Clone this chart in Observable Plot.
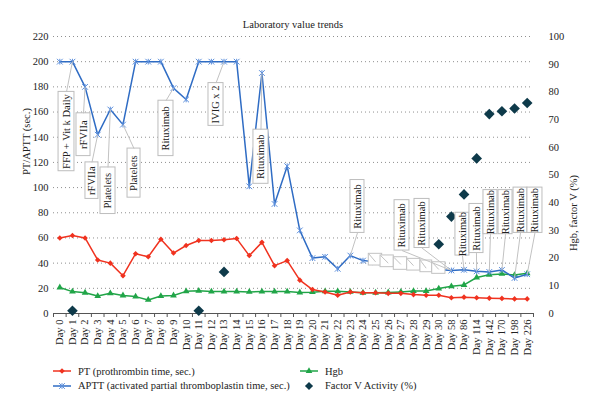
<!DOCTYPE html>
<html>
<head>
<meta charset="utf-8">
<script src="https://cdn.jsdelivr.net/npm/d3@7"></script>
<script src="https://cdn.jsdelivr.net/npm/@observablehq/plot@0.6"></script>
<style>
  body { margin: 0; background: #fff; font-family: "Liberation Serif", Tinos, "Times New Roman", Times, "Noto Serif", "DejaVu Serif", serif; color: #222; }
  #chart { width: 600px; height: 412px; position: relative; overflow: hidden; }
  .title { height: 30px; box-sizing: border-box; padding: 18px 0 0 53px; width: 533px; text-align: center; font-size: 10.5px; line-height: 13px; }
  .legend { position: relative; height: 52px; font-size: 10.5px; }
  .item { position: absolute; display: flex; align-items: center; height: 14px; white-space: nowrap; }
  .item svg { margin-right: 7px; }
  svg.plot { display: block; }
</style>
</head>
<body>
<div id="chart">
  <div class="title">Laboratory value trends</div>
</div>
<script>
// Sampling days (categorical x axis)
const dayLabels = [
  "Day 0", "Day 1", "Day 2", "Day 3", "Day 4", "Day 5", "Day 6", "Day 7", "Day 8", "Day 9",
  "Day 10", "Day 11", "Day 12", "Day 13", "Day 14", "Day 15", "Day 16", "Day 17", "Day 18", "Day 19",
  "Day 20", "Day 21", "Day 22", "Day 23", "Day 24", "Day 25", "Day 26", "Day 27", "Day 28", "Day 29",
  "Day 30", "Day 58", "Day 86", "Day 114", "Day 142", "Day 170", "Day 198", "Day 226"
];

// PT (prothrombin time, sec.) — left axis
const pt = [
  60, 62, 60, 42.5, 40, 30, 47.5, 45, 59, 48,
  54, 58, 58, 58.5, 59.5, 46, 56.5, 38, 42, 26.5,
  19, 17, 14.5, 17, 16.5, 16.5, 16, 16, 15, 14.5,
  14.5, 12.5, 13, 12.5, 12.2, 12, 11.6, 11.6
];

// APTT (activated partial thromboplastin time, sec.) — left axis
const aptt = [
  200, 200, 180, 142, 162, 150, 200, 200, 200, 179,
  170, 200, 200, 200, 200, 101, 191, 87, 117, 66,
  44, 45, 35.5, 46, 42, 41, 40, 39, 38, 36,
  35, 34.2, 34.7, 33.5, 33, 34.6, 28.2, 31.2
];

// Hgb — right axis
const hgb = [
  9.4, 7.9, 7.5, 6.3, 7.3, 6.5, 6.1, 4.9, 6.3, 6.5,
  8.0, 8.2, 7.9, 7.9, 7.9, 7.8, 7.9, 7.9, 7.9, 7.6,
  7.7, 8.0, 8.0, 7.8, 7.5, 7.5, 7.6, 7.8, 8.1, 8.1,
  9.0, 9.8, 10.3, 13.0, 14.0, 14.3, 13.9, 14.5
];

// Factor V activity (%) — right axis, measured on fewer days
const factorVDays = ["Day 1", "Day 11", "Day 13", "Day 30", "Day 58", "Day 86", "Day 114", "Day 142", "Day 170", "Day 198", "Day 226"];
const factorV = [1, 1, 15, 25, 35, 43, 56, 72, 73, 74, 76];

// Axis ticks
const leftTicks = [0, 20, 40, 60, 80, 100, 120, 140, 160, 180, 200, 220];
const rightTicks = [0, 10, 20, 30, 40, 50, 60, 70, 80, 90, 100];

// Treatment notes attached to the APTT series
const noteTexts = [
  "FFP + Vit k Daily", "rFVIIa", "rFVIIa", "Platelets", "Platelets", "Rituximab", "IVIG x 2",
  "Rituximab", "Rituximab", "Rituximab", "Rituximab", "Rituximab", "Rituximab",
  "Rituximab", "Rituximab", "Rituximab", "Rituximab"
];
const noteDays = [
  "Day 1", "Day 2", "Day 3", "Day 4", "Day 5", "Day 9", "Day 13",
  "Day 16", "Day 23", "Day 58", "Day 58", "Day 86", "Day 114",
  "Day 142", "Day 170", "Day 198", "Day 226"
];
// Collapsed (empty) callouts on these days
const blankNoteDays = ["Day 25", "Day 26", "Day 27", "Day 28", "Day 29", "Day 30"];

// Callout box placement in chart units: [x from, x to (day index), top, bottom (left-axis units)]
const noteBoxes = [
  [-0.10, 1.16, 176, 113],
  [1.32, 2.43, 159, 125],
  [2.03, 3.06, 120, 91],
  [3.22, 4.41, 116, 79],
  [5.36, 6.39, 131, 92],
  [7.81, 9.00, 169, 125],
  [11.77, 12.96, 183, 149],
  [15.33, 16.52, 146, 103],
  [23.01, 24.12, 106, 64],
  [26.50, 27.68, 90, 50],
  [28.08, 29.27, 91, 52],
  [31.32, 32.43, 80, 46],
  [32.43, 33.54, 87, 48],
  [33.54, 34.65, 98, 63],
  [34.73, 35.84, 98, 63],
  [35.92, 37.02, 100, 64],
  [37.02, 38.21, 100, 64]
];
const blankBoxes = [
  [24.46, 25.52, 47.4, 38.1],
  [25.39, 26.44, 46.1, 36.8],
  [26.44, 27.50, 44.7, 34.7],
  [27.50, 28.55, 43.4, 34.1],
  [28.55, 29.48, 42.1, 32.8],
  [29.48, 30.53, 40.7, 31.5]
];

// Colours
const red = "#f0321f", blue = "#2f6cc4", blueMark = "#5c8fdc", green = "#21a548", dark = "#0e3a4a";
const serif = '"Liberation Serif", Tinos, "Times New Roman", Times, "Noto Serif", "DejaVu Serif", serif';

// Right axis (0–100) expressed on the left axis (0–220)
const toLeft = d3.scaleLinear([0, 100], [0, 220]);

// Excel-style "star" marker: an x with a vertical stroke
const starSymbol = {
  draw(ctx, size) {
    const r = Math.sqrt(size) * 0.62;
    ctx.moveTo(-r, -r); ctx.lineTo(r, r);
    ctx.moveTo(r, -r); ctx.lineTo(-r, r);
    ctx.moveTo(0, -r); ctx.lineTo(0, r);
  }
};

const dayIndex = (label) => dayLabels.indexOf(label);

const notes = noteTexts.map((text, i) => {
  const day = dayIndex(noteDays[i]);
  const [x1, x2, top, bottom] = noteBoxes[i];
  const value = aptt[day];
  return { text, day, value, x1, x2, top, bottom, ex: (x1 + x2) / 2, ey: top < value ? top : bottom };
});
const blankNotes = blankNoteDays.map((label, i) => {
  const day = dayIndex(label);
  const [x1, x2, top, bottom] = blankBoxes[i];
  return { day, value: aptt[day], x1, x2, top, bottom };
});

const factorVData = factorVDays.map((d, i) => ({ day: dayIndex(d), value: factorV[i] }));

const chart = Plot.plot({
  width: 600,
  height: 330,
  marginTop: 6,
  marginBottom: 47,
  marginLeft: 53,
  marginRight: 67,
  style: { fontFamily: serif, fontSize: "10.5px", color: "#222", background: "#fff" },
  x: { domain: [-0.5, dayLabels.length - 0.5] },
  y: { domain: [0, 220] },
  marks: [
    // dotted horizontal grid
    Plot.ruleY(leftTicks.filter(d => d > 0), { stroke: "#8f8f8f", strokeDasharray: "1,3", strokeWidth: 1 }),
    // left axis
    Plot.axisY(leftTicks, { tickSize: 0, tickPadding: 5, label: null, fill: "#222" }),
    // right axis
    Plot.axisY(rightTicks, { anchor: "right", y: toLeft, tickSize: 0, tickPadding: 15, textAnchor: "start", tickFormat: d => d, label: null, fill: "#222" }),
    // category labels
    Plot.axisX(d3.range(dayLabels.length), { tickSize: 0, tickPadding: 6, tickRotate: -90, tickFormat: i => dayLabels[i], label: null, fill: "#222" }),
    // category boundary ticks
    Plot.axisX(d3.range(dayLabels.length + 1).map(i => i - 0.5), { tickSize: 4, tickFormat: () => "", label: null, stroke: "#555" }),
    Plot.ruleY([0], { stroke: "#555", strokeWidth: 1 }),
    // axis titles
    Plot.text(["PT/APTT (sec.)"], { frameAnchor: "left", dx: -27, rotate: -90, fontSize: 10.5, fill: "#222" }),
    Plot.text(["Hgb, factor V (%)"], { frameAnchor: "right", dx: 40, rotate: -90, fontSize: 10.5, fill: "#222" }),

    // Hgb
    Plot.lineY(hgb, { y: d => toLeft(d), stroke: green, strokeWidth: 1.5 }),
    Plot.dot(hgb, { x: (d, i) => i, y: d => toLeft(d), symbol: "triangle2", r: 3.2, fill: green }),
    // PT
    Plot.lineY(pt, { stroke: red, strokeWidth: 1.5 }),
    Plot.dot(pt, { x: (d, i) => i, y: d => d, symbol: "diamond2", r: 2.5, fill: red }),
    // APTT
    Plot.lineY(aptt, { stroke: blue, strokeWidth: 1.5 }),
    Plot.dot(aptt, { x: (d, i) => i, y: d => d, symbol: starSymbol, r: 2.6, stroke: blueMark, fill: "none", strokeWidth: 1 }),
    // Factor V activity
    Plot.dot(factorVData, { x: "day", y: d => toLeft(d.value), symbol: "diamond2", r: 4.8, fill: dark }),

    // callouts
    Plot.rect(blankNotes, { x1: "x1", x2: "x2", y1: "bottom", y2: "top", fill: "white", stroke: "#c2c2c2", strokeWidth: 1 }),
    Plot.link(blankNotes, { x1: "x1", y1: "top", x2: "day", y2: "value", stroke: "#c2c2c2", strokeWidth: 1 }),
    Plot.rect(notes, { x1: "x1", x2: "x2", y1: "bottom", y2: "top", fill: "white", stroke: "#bdbdbd", strokeWidth: 1 }),
    Plot.link(notes, { x1: "day", y1: "value", x2: "ex", y2: "ey", stroke: "#c2c2c2", strokeWidth: 1 }),
    Plot.text(notes, { x: "ex", y: d => (d.top + d.bottom) / 2, text: "text", rotate: -90, fontSize: 10.5, fill: "#222" })
  ]
});
document.getElementById("chart").appendChild(chart);

// Legend
const legend = document.createElement("div");
legend.className = "legend";
const symbolPath = (type, size) => d3.symbol(type, size)();
const legendItems = [
  { label: "PT (prothrombin time, sec.)", color: red, line: true, marker: symbolPath(d3.symbolDiamond2, 20), left: 53, top: 4 },
  { label: "APTT (activated partial thromboplastin time, sec.)", color: blue, line: true, marker: symbolPath(starSymbol, 21), stroked: blueMark, left: 53, top: 18.5 },
  { label: "Hgb", color: green, line: true, marker: symbolPath(d3.symbolTriangle2, 32), left: 300, top: 4 },
  { label: "Factor V Activity (%)", color: dark, line: false, marker: symbolPath(d3.symbolDiamond2, 42), left: 300, top: 18.5 }
];
for (const it of legendItems) {
  const div = document.createElement("div");
  div.className = "item";
  div.style.left = it.left + "px";
  div.style.top = it.top + "px";
  const sw = d3.create("svg").attr("width", 18).attr("height", 14);
  if (it.line) sw.append("line").attr("x1", 0).attr("x2", 18).attr("y1", 7).attr("y2", 7).attr("stroke", it.color).attr("stroke-width", 1.5);
  const g = sw.append("path").attr("d", it.marker).attr("transform", "translate(9,7)");
  if (it.stroked) g.attr("fill", "none").attr("stroke", it.stroked).attr("stroke-width", 1);
  else g.attr("fill", it.color);
  div.appendChild(sw.node());
  const span = document.createElement("span");
  span.textContent = it.label;
  div.appendChild(span);
  legend.appendChild(div);
}
document.getElementById("chart").appendChild(legend);
</script>
</body>
</html>
